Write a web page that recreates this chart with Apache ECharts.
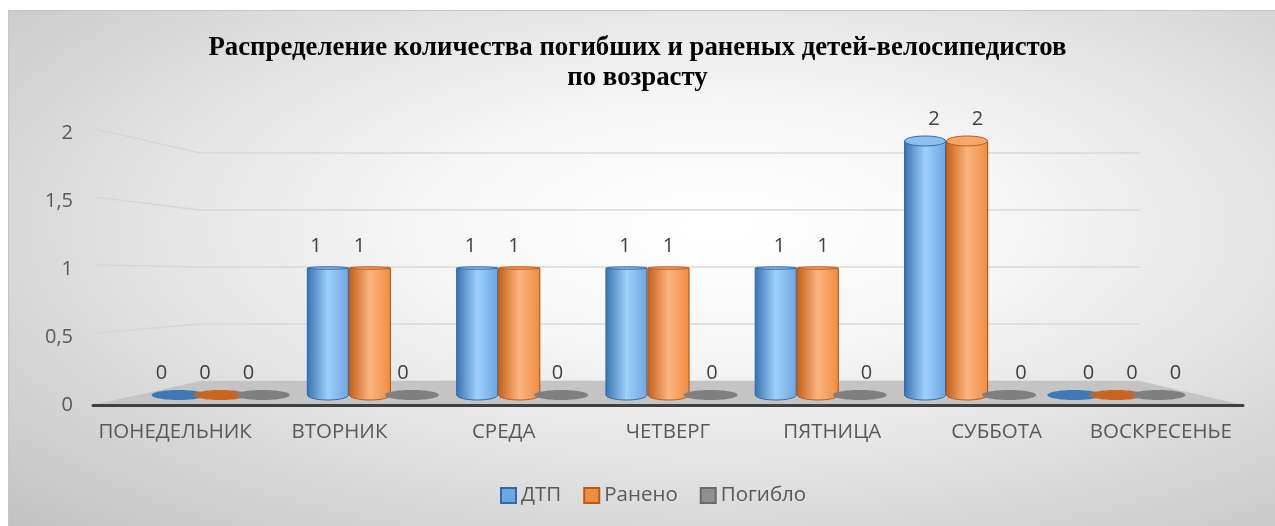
<!DOCTYPE html>
<html>
<head>
<meta charset="utf-8">
<script src="https://cdn.jsdelivr.net/npm/echarts@6/dist/echarts.min.js"></script>
<style>
  html, body { margin: 0; padding: 0; background: #fff; }
  #bg {
    position: absolute; left: 8px; top: 10px; width: 1267px; height: 516px;
    box-sizing: border-box;
    border-top: 1px solid #c6c6c6; border-left: 1px solid #c6c6c6;
    background: radial-gradient(ellipse farthest-corner at 56% 42%, #ffffff 0%, #f6f6f6 30%, #dddddd 65%, #c2c2c2 100%);
  }
  #chart { position: absolute; left: 0; top: 0; width: 1275px; height: 526px; }
</style>
</head>
<body>
<div id="bg"></div>
<div id="chart"></div>
<script>
const days = ['ПОНЕДЕЛЬНИК', 'ВТОРНИК', 'СРЕДА', 'ЧЕТВЕРГ', 'ПЯТНИЦА', 'СУББОТА', 'ВОСКРЕСЕНЬЕ']
const dtp = [0, 1, 1, 1, 1, 2, 0]
const raneno = [0, 1, 1, 1, 1, 2, 0]
const pogiblo = [0, 0, 0, 0, 0, 0, 0]
const seriesNames = ['ДТП', 'Ранено', 'Погибло']
const yTicks = [0, 0.5, 1, 1.5, 2]
const titleText = 'Распределение количества погибших и раненых детей-велосипедистов\nпо возрасту'

// fake 3d: front plane (axis + labels), middle plane (bars), back wall (grid lines)
const W = 1275, H = 526
const FRONT = { left: 93, right: 32, top: 133, bottom: 121 }
const MID = { left: 146, right: 84, top: 141, bottom: 131 }
const BACK = { left: 200, right: 135, top: 153, bottom: 145 }
const EYE = 1 // value at eye level, tops look flat there

const palettes = [
  { dark: '#3c74b4', light: '#9dd0fa', mid: '#6ea6e0', stroke: '#2e6cad', top: '#8cc0ee', flat: '#3f78b6' },
  { dark: '#c3611c', light: '#fbb57e', mid: '#ef8d45', stroke: '#bf5a14', top: '#f7a769', flat: '#c8651f' },
  { dark: '#6f6f6f', light: '#b5b5b5', mid: '#8f8f8f', stroke: '#6a6a6a', top: '#a6a6a6', flat: '#7f7f7f' }
]
const BAR_W = 41
const BAR_STEP = 42

const yMin = yTicks[0]
const yMax = yTicks[yTicks.length - 1]
const yStep = yTicks[1] - yTicks[0]

function planeY(plane, v) {
  const y0 = H - plane.bottom
  return y0 - (v - yMin) / (yMax - yMin) * (y0 - plane.top)
}

function cylinder(idx) {
  const pal = palettes[idx]
  return function(params, api) {
    const cat = api.value(0)
    const val = api.value(1)
    const cs = params.coordSys
    const base = api.coord([cat, 0])
    const top = api.coord([cat, val])
    const eyeY = api.coord([cat, EYE])[1]
    const cx = base[0] + (idx - 1) * BAR_STEP
    const vx = cs.x + cs.width / 2
    const lx = cx + (cx - vx) * 0.035
    const children = []
    if (val === 0) {
      children.push({
        type: 'ellipse',
        shape: { cx: cx, cy: base[1], rx: 27, ry: 5 },
        style: { fill: pal.flat }
      })
    } else {
      const grad = {
        type: 'linear', x: 0, y: 0, x2: 1, y2: 0,
        colorStops: [
          { offset: 0, color: pal.dark },
          { offset: 0.5, color: pal.light },
          { offset: 1, color: pal.mid }
        ]
      }
      const span = Math.abs(base[1] - eyeY) || 1
      const ryB = 5
      const ryT = Math.max(1.2, 5 * Math.abs(top[1] - eyeY) / span)
      const x0 = cx - BAR_W / 2
      children.push({
        type: 'ellipse',
        shape: { cx: cx, cy: base[1], rx: BAR_W / 2, ry: ryB },
        style: { fill: grad, stroke: pal.stroke, lineWidth: 1 }
      })
      children.push({
        type: 'rect',
        shape: { x: x0, y: top[1], width: BAR_W, height: base[1] - top[1] },
        style: { fill: grad }
      })
      children.push({
        type: 'polyline',
        shape: { points: [[x0, top[1]], [x0, base[1]]] },
        style: { stroke: pal.stroke, lineWidth: 1.2, fill: null }
      })
      children.push({
        type: 'polyline',
        shape: { points: [[x0 + BAR_W, top[1]], [x0 + BAR_W, base[1]]] },
        style: { stroke: pal.stroke, lineWidth: 1.2, fill: null }
      })
      children.push({
        type: 'ellipse',
        shape: { cx: cx, cy: top[1], rx: BAR_W / 2, ry: ryT },
        style: { fill: pal.top, stroke: pal.stroke, lineWidth: 1 }
      })
    }
    children.push({
      type: 'text',
      style: {
        text: String(Math.round(val)),
        x: lx, y: top[1] - 12,
        align: 'center', verticalAlign: 'bottom',
        fill: '#404040',
        font: '20px "Open Sans"'
      }
    })
    return { type: 'group', children: children }
  }
}

const seriesData = [dtp, raneno, pogiblo]

const floor = [
  [FRONT.left, H - FRONT.bottom],
  [BACK.left, H - BACK.bottom],
  [W - BACK.right, H - BACK.bottom],
  [W - FRONT.right, H - FRONT.bottom]
]
const sideLines = yTicks.filter(v => v > 0).map(v => ({
  type: 'line',
  z: 1,
  shape: { x1: FRONT.left + 2, y1: planeY(FRONT, v) - 4, x2: BACK.left, y2: planeY(BACK, v) },
  style: { stroke: '#d6d6d6', lineWidth: 1.5 }
}))

const chart = echarts.init(document.getElementById('chart'))
chart.setOption({
  animation: false,
  textStyle: { fontFamily: 'Open Sans' },
  title: {
    text: titleText,
    left: 'center',
    top: 33,
    padding: [0, 0, 0, 20],
    textStyle: {
      fontFamily: 'Liberation Serif',
      fontWeight: 'bold',
      fontSize: 26.8,
      lineHeight: 30,
      color: '#000'
    }
  },
  legend: {
    data: seriesNames,
    top: 485,
    left: 500,
    padding: 0,
    icon: 'rect',
    itemWidth: 15,
    itemHeight: 15,
    itemGap: 22,
    textStyle: { color: '#595959', fontSize: 20.5, fontFamily: 'Open Sans', padding: [0, 0, 0, 0] }
  },
  grid: [
    { left: FRONT.left, right: FRONT.right, top: FRONT.top, bottom: FRONT.bottom },
    { left: MID.left, right: MID.right, top: MID.top, bottom: MID.bottom },
    { left: BACK.left, right: BACK.right, top: BACK.top, bottom: BACK.bottom }
  ],
  xAxis: [
    {
      gridIndex: 0,
      type: 'category',
      data: days,
      z: 5,
      axisLine: { lineStyle: { color: '#404040', width: 3 } },
      axisTick: { show: false },
      axisLabel: { color: '#595959', fontSize: 20.5, fontFamily: 'Open Sans', margin: 17, interval: 0 }
    },
    { gridIndex: 1, type: 'category', data: days, show: false },
    { gridIndex: 2, type: 'category', data: days, show: false }
  ],
  yAxis: [
    {
      gridIndex: 0,
      type: 'value',
      min: yMin, max: yMax, interval: yStep,
      axisLine: { show: false },
      axisTick: { show: false },
      splitLine: { show: false },
      axisLabel: {
        color: '#595959', fontSize: 20, fontFamily: 'Open Sans', margin: 20,
        formatter: v => String(v).replace('.', ',')
      }
    },
    { gridIndex: 1, type: 'value', min: yMin, max: yMax, show: false },
    {
      gridIndex: 2,
      type: 'value',
      min: yMin, max: yMax, interval: yStep,
      axisLine: { show: false },
      axisTick: { show: false },
      axisLabel: { show: false },
      splitLine: { lineStyle: { color: '#d9d9d9', width: 1.5 } }
    }
  ],
  graphic: [
    {
      type: 'polygon',
      z: 1,
      shape: { points: floor },
      style: { fill: '#c4c4c4' }
    }
  ].concat(sideLines),
  series: seriesNames.map((name, i) => ({
    name: name,
    type: 'custom',
    xAxisIndex: 1,
    yAxisIndex: 1,
    z: 3,
    itemStyle: { color: palettes[i].mid, borderColor: palettes[i].stroke, borderWidth: 1.5 },
    renderItem: cylinder(i),
    encode: { x: 0, y: 1 },
    data: seriesData[i].map((v, k) => [k, v])
  }))
})
</script>
</body>
</html>
